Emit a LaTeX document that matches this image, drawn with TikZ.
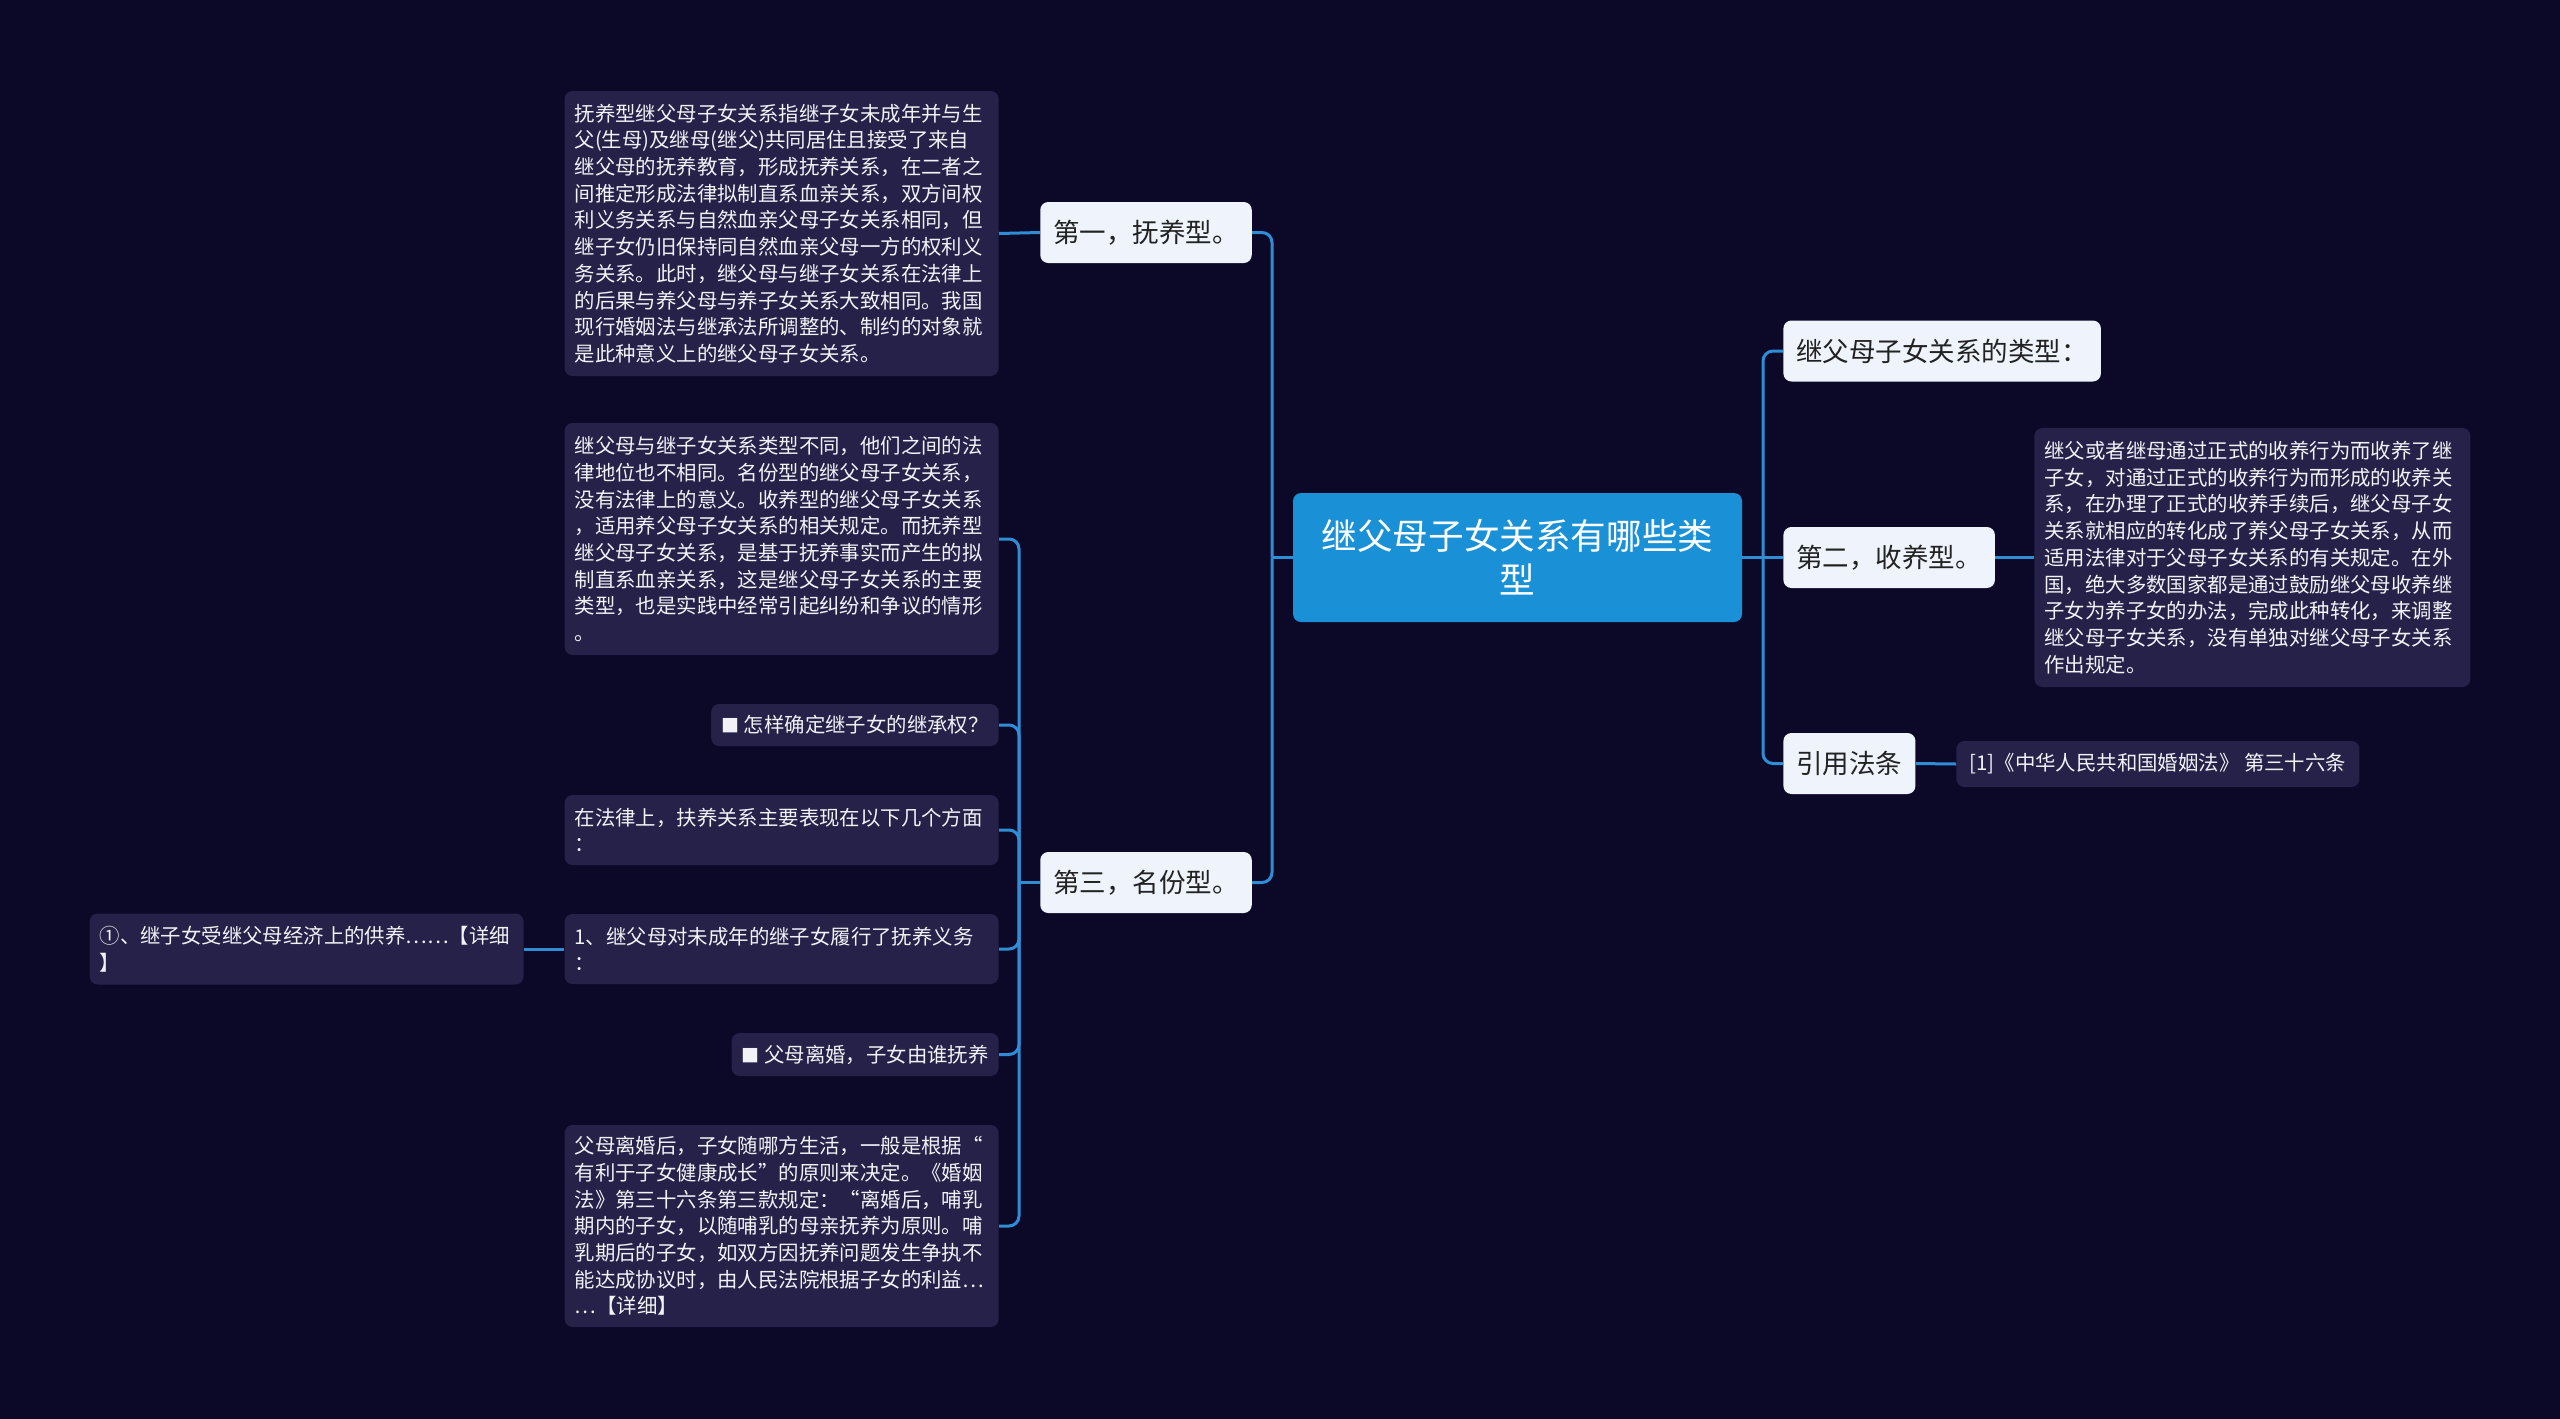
\documentclass[tikz,border=0pt]{standalone}
\usepackage{fontspec}
\setmainfont{Noto Sans CJK SC}
\definecolor{bgnavy}{HTML}{0B0828}
\definecolor{boxnavy}{HTML}{252149}
\definecolor{paleblue}{HTML}{EEF3FC}
\definecolor{rootblue}{HTML}{1A91D6}
\definecolor{linkblue}{HTML}{2F8DD6}
\definecolor{inkwhite}{HTML}{F2F2F6}
\definecolor{inkdark}{HTML}{222222}
\tikzset{
  link/.style={draw=linkblue, line width=1.5pt, rounded corners=5pt},
  rootbox/.style={fill=rootblue, rounded corners=4pt, text=white, align=center,
    font=\fontsize{17.8}{22}\selectfont, minimum width=224.5pt, minimum height=64.5pt},
  typebox/.style={fill=paleblue, rounded corners=4pt, text=inkdark,
    font=\fontsize{13.25}{16}\selectfont, inner xsep=6.5pt, minimum height=30.5pt},
  notebox/.style={fill=boxnavy, rounded corners=4pt, text=inkwhite,
    font=\fontsize{10.2}{13.35}\selectfont, inner xsep=5pt, align=left},
}
\begin{document}
\begin{tikzpicture}[x=0.5pt,y=-0.5pt]
\fill[bgnavy] (0,0) rectangle (2560,1419);
\useasboundingbox (0,0) rectangle (2560,1419);
\node[rootbox] (root) at (1517.5,557.5) {继父母子女关系有哪些类\\型};
% right side
\node[typebox, anchor=west] (kinds) at (1783,351) {继父母子女关系的类型：};
\node[typebox, anchor=west] (second) at (1783,557.5) {第二，收养型。};
\node[typebox, anchor=west] (law) at (1783,763.5) {引用法条};
\node[notebox, anchor=west, text width=208pt, minimum height=129.5pt] (adopt) at (2034,557.5) {继父或者继母通过正式的收养行为而收养了继\\子女，对通过正式的收养行为而形成的收养关\\系，在办理了正式的收养手续后，继父母子女\\关系就相应的转化成了养父母子女关系，从而\\适用法律对于父母子女关系的有关规定。在外\\国，绝大多数国家都是通过鼓励继父母收养继\\子女为养子女的办法，完成此种转化，来调整\\继父母子女关系，没有单独对继父母子女关系\\作出规定。};
\node[notebox, anchor=west, minimum height=23pt, minimum width=201.5pt] (lawref) at (1956,764) {[1]《中华人民共和国婚姻法》 第三十六条};
% left side
\node[typebox] (first) at (1146,232.5) {第一，抚养型。};
\node[typebox] (third) at (1146,882.5) {第三，名份型。};
\node[notebox, anchor=east, text width=207pt, minimum height=142.5pt] (fostering) at (999,233.5) {抚养型继父母子女关系指继子女未成年并与生\\父(生母)及继母(继父)共同居住且接受了来自\\继父母的抚养教育，形成抚养关系，在二者之\\间推定形成法律拟制直系血亲关系，双方间权\\利义务关系与自然血亲父母子女关系相同，但\\继子女仍旧保持同自然血亲父母一方的权利义\\务关系。此时，继父母与继子女关系在法律上\\的后果与养父母与养子女关系大致相同。我国\\现行婚姻法与继承法所调整的、制约的对象就\\是此种意义上的继父母子女关系。};
\node[notebox, anchor=east, text width=207pt, minimum height=116pt] (statusnote) at (999,539) {继父母与继子女关系类型不同，他们之间的法\\律地位也不相同。名份型的继父母子女关系，\\没有法律上的意义。收养型的继父母子女关系\\，适用养父母子女关系的相关规定。而抚养型\\继父母子女关系，是基于抚养事实而产生的拟\\制直系血亲关系，这是继父母子女关系的主要\\类型，也是实践中经常引起纠纷和争议的情形\\。};
\node[notebox, anchor=east, minimum height=21pt] (inherit) at (999,725) {{\small■} 怎样确定继子女的继承权？};
\node[notebox, anchor=east, text width=207pt, minimum height=35pt] (aspects) at (999,830) {在法律上，扶养关系主要表现在以下几个方面\\：};
\node[notebox, anchor=east, text width=207pt, minimum height=35pt] (duty) at (999,949) {1、继父母对未成年的继子女履行了抚养义务\\：};
\node[notebox, anchor=east, minimum height=21.5pt] (divorce) at (999,1054.5) {{\small■} 父母离婚，子女由谁抚养};
\node[notebox, anchor=east, text width=207pt, minimum height=101pt] (custody) at (999,1226) {父母离婚后，子女随哪方生活，一般是根据“\\有利于子女健康成长”的原则来决定。《婚姻\\法》第三十六条第三款规定：“离婚后，哺乳\\期内的子女，以随哺乳的母亲抚养为原则。哺\\乳期后的子女，如双方因抚养问题发生争执不\\能达成协议时，由人民法院根据子女的利益…\\…【详细】};
\node[notebox, anchor=east, text width=207pt, minimum height=35.5pt] (support) at (524,949) {①、继子女受继父母经济上的供养……【详细\\】};
\coordinate (rfork) at (1763,557.5);
\coordinate (lfork) at (1272,557.5);
\coordinate (tfork) at (1019,882.5);
\draw[link] (root.east) -- (rfork);
\draw[link] (rfork) |- (kinds.west);
\draw[link] (rfork) -- (second.west);
\draw[link] (rfork) |- (law.west);
\draw[link] (second.east) -- (adopt.west);
\draw[link] (law.east) -- (lawref.west);
\draw[link] (root.west) -- (lfork);
\draw[link] (lfork) |- (first.east);
\draw[link] (lfork) |- (third.east);
\draw[link] (first.west) -- (fostering.east);
\draw[link] (third.west) -- (tfork);
\foreach \b in {statusnote,inherit,aspects,duty,divorce,custody}
  \draw[link] (tfork) |- (\b.east);
\draw[link] (duty.west) -- (support.east);
\end{tikzpicture}
\end{document}
